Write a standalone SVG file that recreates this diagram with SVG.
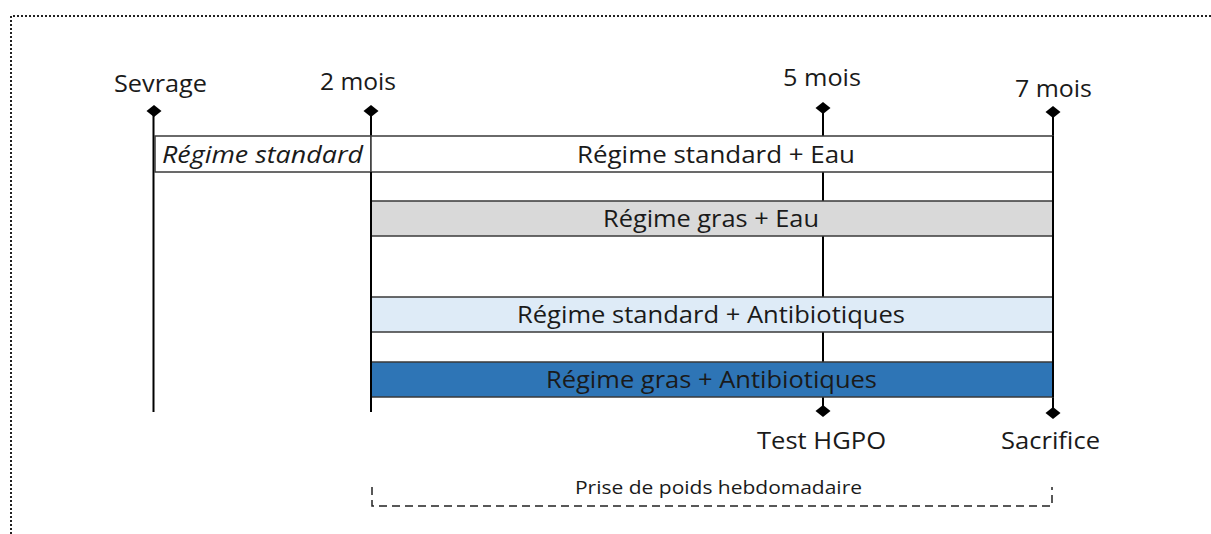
<svg xmlns="http://www.w3.org/2000/svg" width="1211" height="534" viewBox="0 0 1211 534">
<style>
.lbl{font-family:"Open Sans","Noto Sans",sans-serif;font-size:24px;fill:#1a1a1a;text-anchor:middle}
.bt{font-family:"Open Sans","Noto Sans",sans-serif;font-size:23px;fill:#1a1a1a;text-anchor:middle}
.sm{font-family:"Open Sans","Noto Sans",sans-serif;font-size:19px;fill:#1a1a1a;text-anchor:middle}
.tl{stroke:#000;stroke-width:2;fill:none}
.bx{stroke:#3a3a3a;stroke-width:1.5}
</style>
<defs>
<path id="dia" d="M0,-6 L7.5,0 L0,6 L-7.5,0 Z" fill="#000"/>
</defs>
<rect width="1211" height="534" fill="#fff"/>
<path d="M11,534 V16 H1211" fill="none" stroke="#222" stroke-width="2" stroke-dasharray="2 2"/>
<g id="connectors">
<line class="tl" x1="153.5" y1="111" x2="153.5" y2="412"/>
<line class="tl" x1="371" y1="111" x2="371" y2="412"/>
<line class="tl" x1="823" y1="108" x2="823" y2="411"/>
<line class="tl" x1="1053" y1="112" x2="1053" y2="413"/>
<use href="#dia" x="154" y="111"/>
<use href="#dia" x="371" y="111"/>
<use href="#dia" x="823" y="108"/>
<use href="#dia" x="1053" y="112"/>
<use href="#dia" x="823" y="411"/>
<use href="#dia" x="1053" y="413"/>
</g>
<g id="labels">
<text class="lbl" x="160.5" y="92" textLength="93" lengthAdjust="spacingAndGlyphs">Sevrage</text>
<text class="lbl" x="358" y="90" textLength="76" lengthAdjust="spacingAndGlyphs">2 mois</text>
<text class="lbl" x="822" y="86" textLength="78" lengthAdjust="spacingAndGlyphs">5 mois</text>
<text class="lbl" x="1053.5" y="97" textLength="77" lengthAdjust="spacingAndGlyphs">7 mois</text>
<text class="lbl" x="821.5" y="449" textLength="129" lengthAdjust="spacingAndGlyphs">Test HGPO</text>
<text class="lbl" x="1050.5" y="449" textLength="99" lengthAdjust="spacingAndGlyphs">Sacrifice</text>
</g>
<g id="box-std">
<rect class="bx" x="155" y="136" width="216" height="36" fill="#fff"/>
<text class="bt" x="262.5" y="163" font-style="italic" textLength="201" lengthAdjust="spacingAndGlyphs">Régime standard</text>
</g>
<g id="box-std-eau">
<rect class="bx" x="371" y="136" width="682" height="36" fill="#fff"/>
<text class="bt" x="716" y="163" textLength="278" lengthAdjust="spacingAndGlyphs">Régime standard + Eau</text>
</g>
<g id="box-gras-eau">
<rect class="bx" x="371" y="201" width="682" height="35" fill="#d9d9d9"/>
<text class="bt" x="711" y="227" textLength="216" lengthAdjust="spacingAndGlyphs">Régime gras + Eau</text>
</g>
<g id="box-std-ab">
<rect class="bx" x="371" y="297" width="682" height="35" fill="#deebf7"/>
<text class="bt" x="711" y="323" textLength="388" lengthAdjust="spacingAndGlyphs">Régime standard + Antibiotiques</text>
</g>
<g id="box-gras-ab">
<rect class="bx" x="371" y="362" width="682" height="35" fill="#2e75b6"/>
<text class="bt" x="711.5" y="388" textLength="331" lengthAdjust="spacingAndGlyphs">Régime gras + Antibiotiques</text>
</g>
<line class="tl" x1="371" y1="172" x2="371" y2="412"/>
<line class="tl" x1="1053" y1="136" x2="1053" y2="397"/>
<g id="bracket">
<path d="M372,487 V506 H1052 V487" fill="none" stroke="#222" stroke-width="1.5" stroke-dasharray="8 5"/>
<text class="sm" x="718.5" y="494" textLength="287" lengthAdjust="spacingAndGlyphs">Prise de poids hebdomadaire</text>
</g>
</svg>
